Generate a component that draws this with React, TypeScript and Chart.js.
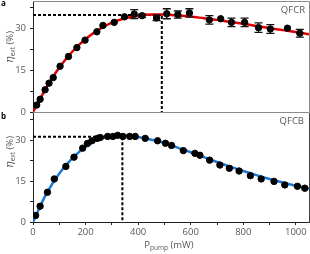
import React, { useEffect, useRef } from 'react';
import { Chart, registerables } from 'chart.js';
Chart.register(...registerables);

// ---- Data: panel a (QFCR) ----
const topPump = [14, 27, 46, 61, 77, 103, 135, 167, 198, 243, 266, 309, 348, 385, 415, 470, 509, 551, 595, 671, 714, 755, 805, 858, 903, 968, 1015];
const topEta = [2.5, 4.6, 8.0, 10.4, 12.4, 16.5, 20.0, 23.2, 25.9, 28.9, 31.2, 32.3, 34.3, 35.3, 34.7, 33.9, 35.4, 35.1, 35.7, 33.2, 33.6, 32.3, 32.3, 30.4, 29.9, 30.2, 28.4];
const topErr = [0, 0, 0, 0, 0, 0, 0, 0, 0, 0, 0, 0, 0, 1.6, 0.6, 1.0, 1.8, 1.3, 1.5, 1.5, 0, 1.5, 1.5, 1.7, 1.6, 0, 1.4];

// ---- Data: panel b (QFCB) ----
const botPump = [10, 27, 55, 81, 125, 156, 189, 207, 224, 245, 256, 284, 304, 322, 342, 368, 389, 427, 474, 504, 527, 572, 616, 635, 672, 711, 747, 784, 827, 868, 917, 958, 1006, 1034];
const botEta = [2.4, 5.8, 10.9, 15.8, 20.4, 23.8, 27.1, 28.8, 29.8, 30.7, 31.0, 31.4, 31.4, 31.8, 31.4, 31.4, 31.4, 30.7, 29.8, 28.9, 28.1, 26.2, 25.2, 24.5, 22.7, 20.9, 19.7, 18.7, 17.0, 15.8, 14.9, 13.6, 13.1, 12.4];

// ---- Fit curves ----
const fitPump = [0, 50, 100, 150, 200, 250, 300, 350, 400, 450, 500, 550, 600, 650, 700, 750, 800, 850, 900, 950, 1000, 1050];
const fitTop = [0, 8.6, 16.0, 21.8, 26.3, 29.7, 32.2, 33.8, 34.7, 35.1, 35.1, 34.8, 34.4, 33.8, 33.2, 32.5, 31.8, 31.0, 30.2, 29.5, 28.8, 28.0];
const fitBot = [0, 10.2, 17.8, 23.4, 27.6, 30.3, 31.6, 31.8, 31.2, 30.2, 29.0, 27.3, 25.6, 23.8, 22.0, 20.3, 18.7, 17.2, 15.8, 14.5, 13.3, 12.2];

// ---- Peak markers ----
const topPeak = { pump: 490, eta: 35.0 };
const botPeak = { pump: 340, eta: 31.3 };

// ---- Ticks ----
const xTickValues = [0, 100, 200, 300, 400, 500, 600, 700, 800, 900, 1000];
const yTickValues = [0, 7.5, 15, 22.5, 30, 37.5];
const X_MAX = 1050;
const Y_MAX = 40;

const GRAY = '#595959';
const TICK_FONT = { family: '"Open Sans", sans-serif', size: 9.5 };

type Part = { t: string; font: string; dy: number };
function drawRich(ctx: CanvasRenderingContext2D, parts: Part[], x: number, y: number) {
  let total = 0;
  for (const p of parts) { ctx.font = p.font; total += ctx.measureText(p.t).width; }
  let cx = x - total / 2;
  ctx.textAlign = 'left';
  ctx.textBaseline = 'alphabetic';
  for (const p of parts) {
    ctx.font = p.font;
    ctx.fillText(p.t, cx, y + p.dy);
    cx += ctx.measureText(p.t).width;
  }
}

const etaParts: Part[] = [
  { t: 'η', font: 'italic 11px "DejaVu Serif"', dy: 0 },
  { t: 'ext', font: '6.5px "Open Sans"', dy: 2 },
  { t: ' (%)', font: '9.5px "Open Sans"', dy: 0 },
];

function drawYTitle(ctx: CanvasRenderingContext2D, cx: number, cy: number) {
  ctx.save();
  ctx.fillStyle = GRAY;
  ctx.translate(cx, cy);
  ctx.rotate(-Math.PI / 2);
  drawRich(ctx, etaParts, 0, 3.5);
  ctx.restore();
}

function pts(xs: number[], ys: number[]) {
  return xs.map((x, i) => ({ x, y: ys[i] }));
}

function yScale() {
  return {
    type: 'linear',
    min: 0,
    max: Y_MAX,
    afterBuildTicks: (s: any) => { s.ticks = yTickValues.map((v) => ({ value: v })); },
    afterFit: (s: any) => { s.width = 33; s.paddingTop = 0; s.paddingBottom = 0; },
    ticks: {
      callback: (v: any) => (v % 15 === 0 ? String(v) : ''),
      color: GRAY,
      font: TICK_FONT,
      padding: 4,
    },
    grid: { drawOnChartArea: false, drawTicks: true, tickLength: 3, color: '#222' },
    border: { color: '#222', width: 1 },
  };
}

function errorBarPlugin(xs: number[], ys: number[], errs: number[]) {
  return {
    id: 'errbars',
    afterDatasetsDraw(chart: any) {
      const ctx = chart.ctx;
      const xs_ = chart.scales.x;
      const ys_ = chart.scales.y;
      ctx.save();
      ctx.strokeStyle = '#111';
      ctx.lineWidth = 1.3;
      xs.forEach((xv, i) => {
        const e = errs[i];
        if (!e) return;
        const px = xs_.getPixelForValue(xv);
        const y1 = ys_.getPixelForValue(ys[i] + e);
        const y2 = ys_.getPixelForValue(ys[i] - e);
        ctx.beginPath();
        ctx.moveTo(px, y1); ctx.lineTo(px, y2);
        ctx.moveTo(px - 4, y1); ctx.lineTo(px + 4, y1);
        ctx.moveTo(px - 4, y2); ctx.lineTo(px + 4, y2);
        ctx.stroke();
      });
      ctx.restore();
    },
  };
}

export default function App() {
  const topRef = useRef<HTMLCanvasElement>(null);
  const botRef = useRef<HTMLCanvasElement>(null);

  useEffect(() => {
    const top = new Chart(topRef.current as HTMLCanvasElement, {
      type: 'scatter',
      data: {
        datasets: [
          {
            data: pts(topPump, topEta),
            backgroundColor: '#000',
            borderColor: '#000',
            pointRadius: 3.2,
            showLine: false,
          },
          {
            data: pts(fitPump, fitTop),
            borderColor: '#e00000',
            borderWidth: 2.5,
            pointRadius: 0,
            showLine: true,
            cubicInterpolationMode: 'monotone',
          },
          {
            data: [{ x: 0, y: topPeak.eta }, { x: topPeak.pump, y: topPeak.eta }, { x: topPeak.pump, y: 0 }],
            borderColor: '#000',
            borderWidth: 2,
            borderDash: [3, 2],
            pointRadius: 0,
            showLine: true,
          },
        ],
      } as any,
      options: {
        animation: false,
        responsive: false,
        devicePixelRatio: 1,
        layout: { autoPadding: false, padding: { left: 0, right: 1, top: 1, bottom: 10 } },
        plugins: { legend: { display: false }, tooltip: { enabled: false } },
        scales: {
          x: { type: 'linear', min: 0, max: X_MAX, display: false },
          y: yScale(),
        } as any,
      },
      plugins: [
        errorBarPlugin(topPump, topEta, topErr),
        {
          id: 'decorTop',
          afterDraw(chart: any) {
            const ctx = chart.ctx;
            const a = chart.chartArea;
            ctx.save();
            ctx.strokeStyle = '#8a8a8a';
            ctx.lineWidth = 1;
            ctx.beginPath();
            ctx.moveTo(a.left, a.top + 0.5); ctx.lineTo(a.right + 0.5, a.top + 0.5);
            ctx.lineTo(a.right + 0.5, a.bottom + 0.5); ctx.lineTo(a.left, a.bottom + 0.5);
            ctx.stroke();
            ctx.fillStyle = '#000';
            ctx.font = 'bold 8px "Open Sans"';
            ctx.textAlign = 'left';
            ctx.textBaseline = 'middle';
            ctx.fillText('a', 1, 4);
            ctx.fillStyle = GRAY;
            ctx.font = '9.5px "Open Sans"';
            ctx.textAlign = 'right';
            ctx.fillText('QFCR', 305, 10);
            ctx.restore();
            drawYTitle(ctx, 9, 47);
          },
        },
      ],
    } as any);

    const bot = new Chart(botRef.current as HTMLCanvasElement, {
      type: 'scatter',
      data: {
        datasets: [
          {
            data: pts(botPump, botEta),
            backgroundColor: '#000',
            borderColor: '#000',
            pointRadius: 3.2,
            showLine: false,
          },
          {
            data: pts(fitPump, fitBot),
            borderColor: '#1a7ad6',
            borderWidth: 2.5,
            pointRadius: 0,
            showLine: true,
            cubicInterpolationMode: 'monotone',
          },
          {
            data: [{ x: 0, y: botPeak.eta }, { x: botPeak.pump, y: botPeak.eta }, { x: botPeak.pump, y: 0 }],
            borderColor: '#000',
            borderWidth: 2,
            borderDash: [3, 2],
            pointRadius: 0,
            showLine: true,
          },
        ],
      } as any,
      options: {
        animation: false,
        responsive: false,
        devicePixelRatio: 1,
        layout: { autoPadding: false, padding: { left: 0, right: 1, top: 13, bottom: 0 } },
        plugins: { legend: { display: false }, tooltip: { enabled: false } },
        scales: {
          x: {
            type: 'linear',
            min: 0,
            max: X_MAX,
            afterBuildTicks: (s: any) => { s.ticks = xTickValues.map((v) => ({ value: v })); },
            afterFit: (s: any) => { s.height = 32; s.paddingLeft = 0; s.paddingRight = 0; },
            ticks: {
              callback: (v: any) => (v % 200 === 0 ? String(v) : ''),
              color: GRAY,
              font: TICK_FONT,
              padding: 2,
              maxRotation: 0,
              autoSkip: false,
            },
            grid: { drawOnChartArea: false, drawTicks: true, tickLength: 3, color: '#222' },
            border: { color: '#222', width: 1 },
          },
          y: yScale(),
        } as any,
      },
      plugins: [
        {
          id: 'decorBot',
          afterDraw(chart: any) {
            const ctx = chart.ctx;
            const a = chart.chartArea;
            ctx.save();
            ctx.strokeStyle = '#444';
            ctx.lineWidth = 1;
            ctx.beginPath();
            ctx.moveTo(a.right + 0.5, a.top); ctx.lineTo(a.right + 0.5, a.bottom + 0.5);
            ctx.stroke();
            ctx.fillStyle = '#000';
            ctx.font = 'bold 8px "Open Sans"';
            ctx.textAlign = 'left';
            ctx.textBaseline = 'middle';
            ctx.fillText('b', 1, 17);
            ctx.fillStyle = GRAY;
            ctx.font = '9.5px "Open Sans"';
            ctx.textAlign = 'right';
            ctx.fillText('QFCB', 304, 21.5);
            ctx.restore();
            drawYTitle(ctx, 9, 52);
            ctx.save();
            ctx.fillStyle = GRAY;
            drawRich(ctx, [
              { t: 'P', font: '9.5px "Open Sans"', dy: 0 },
              { t: 'pump', font: '6.5px "Open Sans"', dy: 2 },
              { t: ' (mW)', font: '9.5px "Open Sans"', dy: 0 },
            ], 169, 148);
            ctx.restore();
          },
        },
      ],
    } as any);

    return () => { top.destroy(); bot.destroy(); };
  }, []);

  return (
    <div style={{ position: 'fixed', left: 0, top: 0, width: 310, height: 254, background: '#fff' }}>
      <canvas ref={topRef} width={310} height={122} style={{ position: 'absolute', left: 0, top: 0 }} />
      <canvas ref={botRef} width={310} height={154} style={{ position: 'absolute', left: 0, top: 100 }} />
    </div>
  );
}
